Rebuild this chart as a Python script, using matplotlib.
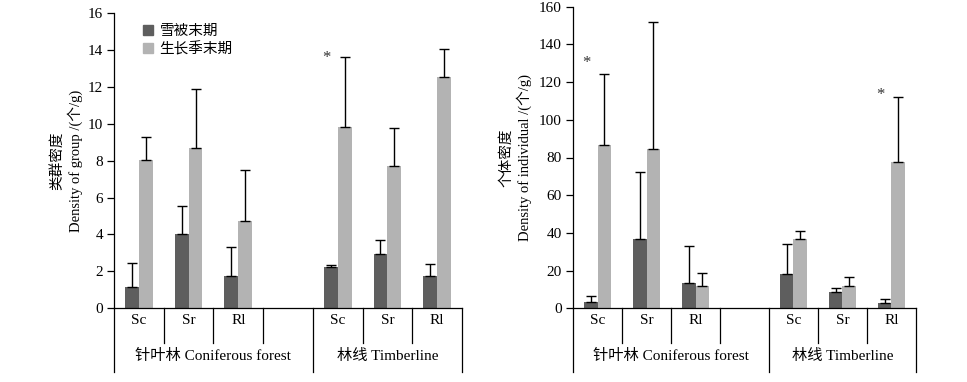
import numpy as np
import matplotlib
matplotlib.use("Agg")
import matplotlib.pyplot as plt
import matplotlib.transforms as mtransforms
from matplotlib.lines import Line2D

plt.rcParams['font.family'] = ['Liberation Serif', 'Noto Sans CJK SC']
plt.rcParams['axes.unicode_minus'] = False

# Data
site_labels = ['Sc', 'Sr', 'Rl', 'Sc', 'Sr', 'Rl']
slot_index = [0, 1, 2, 4, 5, 6]  # slot 3 is the empty gap in the coniferous group
group_names = ['针叶林 Coniferous forest', '林线 Timberline']
series_names = ['雪被末期', '生长季末期']

group_snow = [1.18, 4.05, 1.76, 2.22, 2.96, 1.76]
group_snow_err = [1.27, 1.50, 1.58, 0.12, 0.72, 0.65]
group_grow = [8.06, 8.71, 4.72, 9.80, 7.71, 12.55]
group_grow_err = [1.24, 3.18, 2.78, 3.80, 2.08, 1.50]

indiv_snow = [3.2, 36.5, 13.2, 18.2, 8.7, 2.7]
indiv_snow_err = [3.5, 35.9, 19.8, 15.8, 2.3, 2.4]
indiv_grow = [86.5, 84.5, 11.8, 36.5, 11.8, 77.4]
indiv_grow_err = [37.8, 67.3, 6.8, 4.5, 4.6, 34.6]

# significance stars: (slot, y)
group_stars = [(4, 13.55)]
indiv_stars = [(0, 130.0), (6, 113.0)]

dark = '#5e5e5e'
light = '#b3b3b3'
W = 0.28

fig = plt.figure(figsize=(9.67, 3.82), dpi=100)
H = 382.0
ax1 = fig.add_axes([114 / 967, 1 - 308.3 / H, 348 / 967, (308.3 - 13) / H])
ax2 = fig.add_axes([573 / 967, 1 - 308.3 / H, 343 / 967, (308.3 - 6.7) / H])


def draw_panel(ax, snow, snow_err, grow, grow_err, ymax, step, ylabel, stars, label_x):
    centers = np.array(slot_index) + 0.5
    ax.bar(centers - W / 2, snow, W, color=dark, zorder=2)
    ax.bar(centers + W / 2, grow, W, color=light, zorder=2)
    ax.errorbar(centers - W / 2, snow, yerr=[np.zeros(len(snow)), snow_err], fmt='none',
                ecolor='black', elinewidth=1.0, capsize=3.5, capthick=1.0, zorder=3)
    ax.errorbar(centers + W / 2, grow, yerr=[np.zeros(len(grow)), grow_err], fmt='none',
                ecolor='black', elinewidth=1.0, capsize=3.5, capthick=1.0, zorder=3)
    for s, y in stars:
        ax.text(s + 0.5 - 0.22, y, '*', ha='center', va='center', fontsize=12, color='#333333')

    ax.set_xlim(0, 7)
    ax.set_ylim(0, ymax)
    ax.set_yticks(np.arange(0, ymax + 1, step))
    ax.set_xticks([])
    for sp in ['top', 'right']:
        ax.spines[sp].set_visible(False)
    ax.spines['left'].set_linewidth(0.9)
    ax.spines['bottom'].set_linewidth(0.9)
    ax.tick_params(axis='y', direction='out', length=5, width=0.9, labelsize=11, pad=3)

    ax.set_ylabel(ylabel, fontsize=10.5, linespacing=1.25)
    ax.yaxis.set_label_coords(label_x, 0.5)

    # category lines and labels below the axis
    trans = mtransforms.blended_transform_factory(ax.transData, fig.transFigure)
    y0 = 1 - 308.3 / H
    y_short = 1 - 343 / H
    y_long = 1 - 372 / H
    for x in range(8):
        if x in (0, 4, 7):
            yb = y_long
        else:
            yb = y_short
        ax.add_line(Line2D([x, x], [y0, yb], transform=trans, color='black', lw=0.9, clip_on=False))
    for c, lab in zip(centers, site_labels):
        ax.text(c, 1 - 320 / H, lab, transform=trans, ha='center', va='center', fontsize=11)
    ax.text(2.0, 1 - 356 / H, group_names[0], transform=trans, ha='center', va='center', fontsize=11)
    ax.text(5.5, 1 - 356 / H, group_names[1], transform=trans, ha='center', va='center', fontsize=11)


draw_panel(ax1, group_snow, group_snow_err, group_grow, group_grow_err, 16, 2,
           '类群密度\nDensity of group /(个/g)', group_stars, -0.088)
draw_panel(ax2, indiv_snow, indiv_snow_err, indiv_grow, indiv_grow_err, 160, 20,
           '个体密度\nDensity of individual /(个/g)', indiv_stars, -0.12)

handles = [Line2D([], [], marker='s', ls='none', color=dark, markersize=7),
           Line2D([], [], marker='s', ls='none', color=light, markersize=7)]
ax1.legend(handles, series_names, loc='upper left', bbox_to_anchor=(0.06, 0.98),
           frameon=False, fontsize=10.5, handletextpad=0.3, labelspacing=0.25,
           borderaxespad=0, handlelength=1.0)

fig.savefig('out.png', dpi=100)
